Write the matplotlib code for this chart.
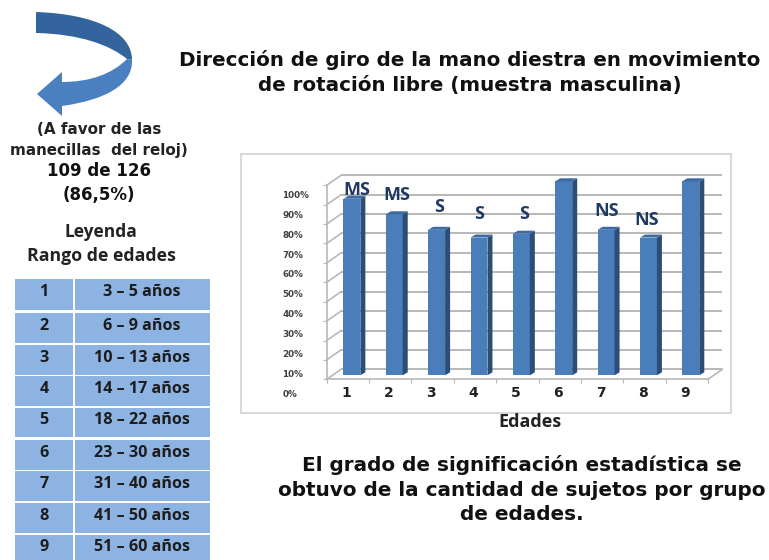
import matplotlib
matplotlib.use('Agg')
import matplotlib.pyplot as plt
from matplotlib.patches import PathPatch, Rectangle
from matplotlib.path import Path
from matplotlib.transforms import Affine2D

edades = ['1', '2', '3', '4', '5', '6', '7', '8', '9']
porcentajes = [91, 83, 75, 71, 73, 100, 75, 71, 100]
significacion = ['MS', 'MS', 'S', 'S', 'S', '', 'NS', 'NS', '']
rangos = ['3 – 5 años', '6 – 9 años', '10 – 13 años', '14 – 17 años', '18 – 22 años',
          '23 – 30 años', '31 – 40 años', '41 – 50 años', '51 – 60 años']
ticks_y = [0, 10, 20, 30, 40, 50, 60, 70, 80, 90, 100]

# pixel layout
W, H = 769, 560
sig_pos = [(357, 190), (397, 195), (439, 207), (479, 214), (524, 214), None, (607, 211), (647, 220), None]
fila_arriba = [279, 313, 345, 376, 408, 440, 471, 503, 535]
fila_abajo = [310, 343, 375, 406, 437, 470, 501, 533, 563]

AZUL = '#4a7ebb'
AZUL_LADO = '#2c4d75'
AZUL_TOPE = '#3c6aa3'
GRIS = '#b8b8b8'
ANCHA = 'DejaVu Sans'
CALIBRI = 'Open Sans'

fig = plt.figure(figsize=(W / 100, H / 100), dpi=100, facecolor='white')

# full figure layer in pixels for the text around the chart
over = fig.add_axes([0, 0, 1, 1], zorder=0)
over.set_xlim(0, W)
over.set_ylim(H, 0)
over.axis('off')

over.add_patch(Rectangle((240.5, 154), 490.5, 259, fc='white', ec='#d9d9d9', lw=1.5))

over.text(469.5, 60, 'Dirección de giro de la mano diestra en movimiento', ha='center', va='center',
          family=ANCHA, weight='bold', fontsize=14.3, color='#111111')
over.text(469.5, 86, 'de rotación libre (muestra masculina)', ha='center', va='center',
          family=ANCHA, weight='bold', fontsize=14.3, color='#111111')

over.text(522, 465, 'El grado de significación estadística se', ha='center', va='center',
          family=ANCHA, weight='bold', fontsize=14.4, color='#111111')
over.text(522, 490, 'obtuvo de la cantidad de sujetos por grupo', ha='center', va='center',
          family=ANCHA, weight='bold', fontsize=14.4, color='#111111')
over.text(522, 514, 'de edades.', ha='center', va='center',
          family=ANCHA, weight='bold', fontsize=14.4, color='#111111')

over.text(99, 130, '(A favor de las', ha='center', va='center', family=ANCHA, weight='bold', fontsize=10.9, color='#222222')
over.text(99, 150, 'manecillas  del reloj)', ha='center', va='center', family=ANCHA, weight='bold', fontsize=10.9, color='#222222')
over.text(99, 171, '109 de 126', ha='center', va='center', family=ANCHA, weight='bold', fontsize=12, color='#111111')
over.text(99, 195, '(86,5%)', ha='center', va='center', family=ANCHA, weight='bold', fontsize=12, color='#111111')
over.text(101, 232, 'Leyenda', ha='center', va='center', family=CALIBRI, weight='bold', fontsize=12.5, color='#222222')
over.text(101, 256, 'Rango de edades', ha='center', va='center', family=CALIBRI, weight='bold', fontsize=12.8, color='#222222')

over.text(530, 422, 'Edades', ha='center', va='center', family=CALIBRI, weight='bold', fontsize=13, color='#222222')

# legend table
for i in range(len(rangos)):
    top, bottom = fila_arriba[i], fila_abajo[i]
    over.add_patch(Rectangle((15, top), 58, bottom - top, fc='#8db3e2', ec='none'))
    over.add_patch(Rectangle((75, top), 135, bottom - top, fc='#8db3e2', ec='none'))
    over.text(44, (top + bottom) / 2 - 2, edades[i], ha='center', va='center', family=CALIBRI,
              weight='bold', fontsize=11.6, color='#1c1c1c')
    over.text(142, (top + bottom) / 2 - 2, rangos[i], ha='center', va='center', family=CALIBRI,
              weight='bold', fontsize=11.6, color='#1c1c1c')

# curved arrow, top band then lower band
oscuro = [(36, 12), (95, 14), (132, 32), (132, 60), (127, 59), (110, 45), (80, 34), (36, 33), (36, 12)]
cod_oscuro = [Path.MOVETO, Path.CURVE4, Path.CURVE4, Path.CURVE4, Path.LINETO, Path.CURVE4, Path.CURVE4, Path.CURVE4,
              Path.LINETO]
over.add_patch(PathPatch(Path(oscuro, cod_oscuro), fc='#33649d', ec='none'))

claro = [(132, 60), (133, 85), (105, 100), (62, 106), (62, 116), (37, 94), (62, 72), (62, 82),
         (90, 82), (112, 74), (127, 59), (132, 60)]
cod_claro = [Path.MOVETO, Path.CURVE4, Path.CURVE4, Path.CURVE4, Path.LINETO, Path.LINETO, Path.LINETO, Path.LINETO,
             Path.CURVE4, Path.CURVE4, Path.CURVE4, Path.LINETO]
over.add_patch(PathPatch(Path(claro, cod_claro), fc='#4a80c0', ec='none'))

# chart, the axes is the front plane of the 3d box
ax = fig.add_axes([326.7 / W, (H - 379.3) / H, 381.3 / W, 194 / H], zorder=1)
ax.patch.set_alpha(0)
ax.set_xlim(0, 9)
ax.set_ylim(0, 100)

fondo = ax.transData + Affine2D().translate(14.3, 10)
plano = ax.transData + Affine2D().translate(4, 4)
paso_x = 381.3 / 9
paso_y = 194 / 100

ax.hlines(ticks_y, 0, 9, color=GRIS, lw=1.4, transform=fondo, clip_on=False, zorder=1)
for t in ticks_y:
    ax.plot([0, 14.3 / paso_x], [t, t + 10 / paso_y], color=GRIS, lw=1.2, clip_on=False, zorder=1)
ax.plot([9, 9 + 14.3 / paso_x], [0, 10 / paso_y], color=GRIS, lw=1.2, clip_on=False, zorder=1)

x = [i + 0.5 for i in range(len(edades))]
ancho = 0.4
dx = 5 / paso_x
dy = 3 / paso_y
ax.bar(x, porcentajes, ancho, color=AZUL, transform=plano, zorder=3, clip_on=False)
for xi, v in zip(x, porcentajes):
    d = xi + ancho / 2
    i = xi - ancho / 2
    ax.fill([d, d + dx, d + dx, d], [0, dy, v + dy, v], color=AZUL_LADO, lw=0, transform=plano, zorder=3, clip_on=False)
    ax.fill([i, i + dx, d + dx, d], [v, v + dy, v + dy, v], color=AZUL_TOPE, lw=0, transform=plano, zorder=3, clip_on=False)

for s in ['top', 'right']:
    ax.spines[s].set_visible(False)
for s in ['left', 'bottom']:
    ax.spines[s].set_color(GRIS)
    ax.spines[s].set_linewidth(1.2)

ax.set_yticks(ticks_y)
ax.set_yticklabels([str(t) + '%' for t in ticks_y], family=ANCHA, weight='bold', fontsize=6.3, color='#404040')
ax.tick_params(axis='y', length=3, color=GRIS, pad=29)
# the labels sit lower than their ticks and are spread a bit wider
for lab, t in zip(ax.get_yticklabels(), ticks_y):
    lab.set_ha('left')
    lab.set_transform(lab.get_transform() + Affine2D().translate(0, -14 + t * 0.05))

ax.set_xticks(range(10))
ax.set_xticklabels([''] * 10)
ax.tick_params(axis='x', length=3, color=GRIS)
for xi, e in zip(x, edades):
    ax.annotate(e, (xi, 0), xytext=(-1.5, -14), textcoords='offset pixels', ha='center', va='center',
                family=ANCHA, weight='bold', fontsize=10, color='#222222')

for etiqueta, pos in zip(significacion, sig_pos):
    if pos:
        ax.text(pos[0], pos[1], etiqueta, transform=over.transData, ha='center', va='center', clip_on=False,
                family=CALIBRI, weight='bold', fontsize=13, color='#1f3864', zorder=5)

fig.savefig('out.png', dpi=100)
